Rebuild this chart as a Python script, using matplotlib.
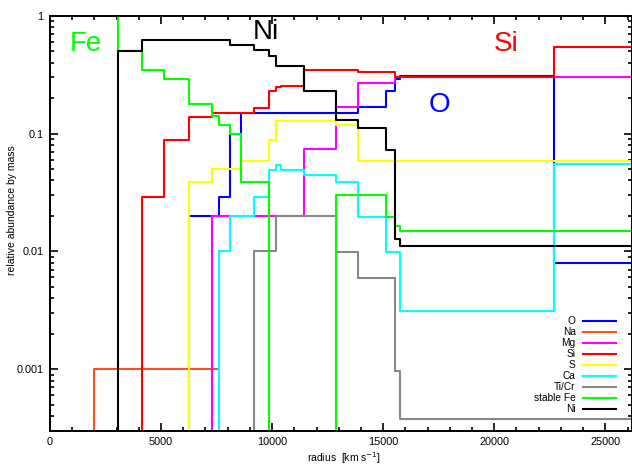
import numpy as np
import matplotlib
matplotlib.use("Agg")
import matplotlib.pyplot as plt
from matplotlib.ticker import MultipleLocator, LogLocator, FixedFormatter, FixedLocator, NullFormatter

plt.rcParams['font.family'] = ['Liberation Sans', 'DejaVu Sans']

# shell boundaries in velocity (km/s)
edges = [0, 2000, 3070, 4120, 5140, 6250, 7300, 7600, 8100, 8590, 9190, 9870,
         10170, 10420, 11430, 12870, 13870, 15120, 15520, 15760, 22690, 27000]

# mass fractions per shell (0 = not present)
O = [0, 0, 0, 0, 0, 0.02, 0.02, 0.029, 0.1, 0.148, 0.148, 0.148, 0.148, 0.148,
     0.148, 0.148, 0.169, 0.231, 0.29, 0.308, 0.008]
Na = [0, 0.001, 0.001, 0.001, 0.001, 0.001, 0.001, 0, 0, 0, 0, 0, 0, 0, 0, 0,
      0, 0, 0, 0, 0]
Mg = [0, 0, 0, 0, 0, 0, 0.02, 0.02, 0.02, 0.02, 0.02, 0.02, 0.02, 0.02, 0.0735,
      0.169, 0.27, 0.27, 0.3, 0.3, 0.3]
Si = [0, 0, 0, 0.029, 0.0877, 0.137, 0.148, 0.148, 0.148, 0.148, 0.166, 0.231,
      0.247, 0.253, 0.346, 0.346, 0.333, 0.333, 0.299, 0.299, 0.541]
S = [0, 0, 0, 0, 0, 0.0387, 0.0497, 0.0497, 0.0497, 0.0589, 0.0589, 0.0877,
     0.128, 0.128, 0.128, 0.118, 0.0589, 0.0589, 0.0589, 0.0589, 0.0589]
Ca = [0, 0, 0, 0, 0, 0, 0, 0.01, 0.02, 0.02, 0.029, 0.049, 0.0536, 0.049,
      0.0447, 0.039, 0.0195, 0.0098, 0.0098, 0.0031, 0.0547]
TiCr = [0, 0, 0, 0, 0, 0, 0, 0, 0, 0, 0.01, 0.01, 0.02, 0.02, 0.02, 0.0098,
        0.0059, 0.0059, 0.00097, 0.00038, 0.00038]
Fe = [1, 1, 0.5, 0.346, 0.288, 0.178, 0.14, 0.118, 0.1, 0.0387, 0.0387, 0, 0,
      0, 0, 0.03, 0.03, 0.0195, 0.0165, 0.0148, 0.0148]
Ni = [0, 0, 0.497, 0.616, 0.616, 0.616, 0.616, 0.616, 0.566, 0.566, 0.513,
      0.456, 0.375, 0.375, 0.23, 0.13, 0.112, 0.072, 0.0127, 0.011, 0.011]

labels = ["O", "Na", "Mg", "Si", "S", "Ca", "Ti/Cr", "stable Fe", "Ni"]
series = [O, Na, Mg, Si, S, Ca, TiCr, Fe, Ni]
colors = ["#0000ff", "#ff5020", "#ff00ff", "#ff0000", "#ffff00", "#00ffff",
          "#888888", "#00ff00", "#000000"]

fig = plt.figure(figsize=(6.32, 4.66), dpi=100)
ax = fig.add_axes([50 / 632, 35 / 466, 582 / 632, 415.3 / 466])

for lab, vals, col in zip(labels, series, colors):
    v = np.array(vals, dtype=float)
    v = np.where(v > 0, v, 1e-6)  # absent -> drop off the bottom of the plot
    ax.step(edges, np.append(v, v[-1]), where='post', color=col, lw=1.5, label=lab)

ax.set_yscale('log')
ax.set_xlim(0, 26200)
ax.set_ylim(10 ** -3.525, 1)

ax.xaxis.set_major_locator(MultipleLocator(5000))
ax.xaxis.set_minor_locator(MultipleLocator(1000))
ax.yaxis.set_major_locator(FixedLocator([0.001, 0.01, 0.1, 1]))
ax.yaxis.set_major_formatter(FixedFormatter(["0.001", "0.01", "0.1", "1"]))
ax.yaxis.set_minor_locator(LogLocator(base=10, subs=np.arange(2, 10)))
ax.yaxis.set_minor_formatter(NullFormatter())

ax.tick_params(which='both', direction='in', top=True, right=True, width=1.2,
               labelsize=7.8, pad=4.5)
ax.tick_params(which='major', length=6)
ax.tick_params(which='minor', length=3)
for sp in ax.spines.values():
    sp.set_linewidth(1.4)

ax.set_xlabel("radius  [km s$^{-1}$]", fontsize=7.5)
ax.set_ylabel("relative abundance by mass", fontsize=7.5)
ax.xaxis.set_label_coords(0.505, -0.047)
ax.yaxis.set_label_coords(-0.057, 0.532)

# big element labels
ax.text(0.061, 0.914, "Fe", color="#00ff00", fontsize=20, ha='center', va='baseline', transform=ax.transAxes)
ax.text(0.371, 0.945, "Ni", color="black", fontsize=20, ha='center', va='baseline', transform=ax.transAxes)
ax.text(0.7835, 0.916, "Si", color="#ff0000", fontsize=20, ha='center', va='baseline', transform=ax.transAxes)
ax.text(0.669, 0.769, "O", color="#0000ff", fontsize=20, ha='center', va='baseline', transform=ax.transAxes)

ax.legend(loc='lower right', bbox_to_anchor=(0.972, 0.04), frameon=False,
          markerfirst=False, fontsize=7.3, handlelength=3.2, handletextpad=0.75,
          labelspacing=0.1, borderpad=0, borderaxespad=0)

fig.savefig("out.png", dpi=100)
